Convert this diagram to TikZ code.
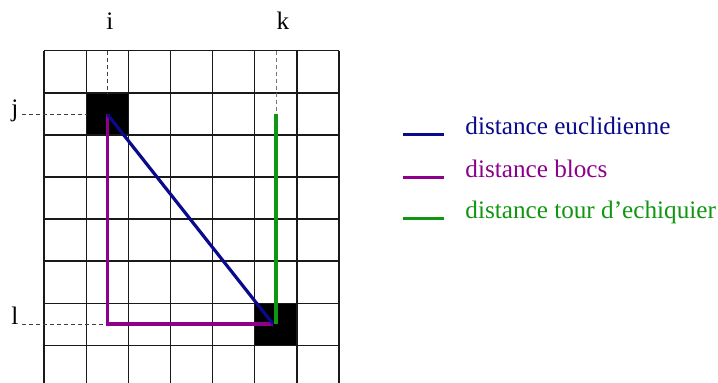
\documentclass[tikz,border=0pt]{standalone}
\usepackage{fontspec}
\setmainfont{Liberation Serif}
\begin{document}
\begin{tikzpicture}[x=0.5pt,y=-0.5pt,
  gridline/.style={line width=0.75pt,black!90},
  guide/.style={line width=0.45pt,dash pattern=on 2pt off 1.5pt,black!75},
  dist/.style={line width=1.6pt},
  lbl/.style={inner sep=0pt,anchor=base,font=\fontsize{12.6}{15}\selectfont},
  legtxt/.style={inner sep=0pt,anchor=base west,font=\fontsize{12.6}{15}\selectfont}]
\definecolor{euc}{RGB}{10,10,140}
\definecolor{blk}{RGB}{140,0,140}
\definecolor{tour}{RGB}{16,150,16}
\useasboundingbox (0,0) rectangle (718,383);
% black cells
\fill[black] (86.5,93.3) rectangle (128.6,135.4);
\fill[black] (254.8,303.7) rectangle (296.9,345.8);
% grid
\foreach \c in {0,...,7} \draw[gridline] ({44.2+42.1*\c},50.7) -- ({44.2+42.1*\c},383);
\foreach \r in {0,...,7} \draw[gridline] (44.2,{50.7+42.1*\r}) -- (339.2,{50.7+42.1*\r});
% labels
\node[lbl] (li) at (110,30) {i};
\node[lbl] (lk) at (283,30) {k};
\node[lbl] (lj) at (15,117) {j};
\node[lbl] (ll) at (15,325) {l};
% points
\coordinate (A) at (107.5,114.4);
\coordinate (B) at (273,324);
\coordinate (C) at (107.5,324);
\coordinate (G) at (276,114.4);
\coordinate (H) at (276,324);
\coordinate (itop) at (107.5,50.7);
\coordinate (ibot) at (107.5,93.3);
\coordinate (ktop) at (276,50.7);
\coordinate (jend) at (86.5,114.4);
\coordinate (jst) at (22,114.4);
\coordinate (lst) at (22,324);
% guides
\draw[guide] (itop) -- (ibot);
\draw[guide,black!55] (ktop) -- (G);
\draw[guide] (jst) -- (jend);
\draw[guide] (lst) -- (C);
% distances
\draw[dist,blk] (A) -- (C) -- (B);
\draw[dist,euc] (A) -- (B);
\draw[dist,tour] (G) -- (H);
% legend
\coordinate (e1) at (403,134.3); \coordinate (e2) at (444,134.3);
\coordinate (b1) at (403,177.7); \coordinate (b2) at (444,177.7);
\coordinate (t1) at (403,218.3); \coordinate (t2) at (444,218.3);
\draw[dist,euc] (e1) -- (e2);
\draw[dist,blk] (b1) -- (b2);
\draw[dist,tour] (t1) -- (t2);
\node[legtxt,text=euc] (te) at (465,134.5) {distance euclidienne};
\node[legtxt,text=blk] (tb) at (465,177.7) {distance blocs};
\node[legtxt,text=tour] (tt) at (465,218.3) {distance tour d’echiquier};
\end{tikzpicture}
\end{document}
